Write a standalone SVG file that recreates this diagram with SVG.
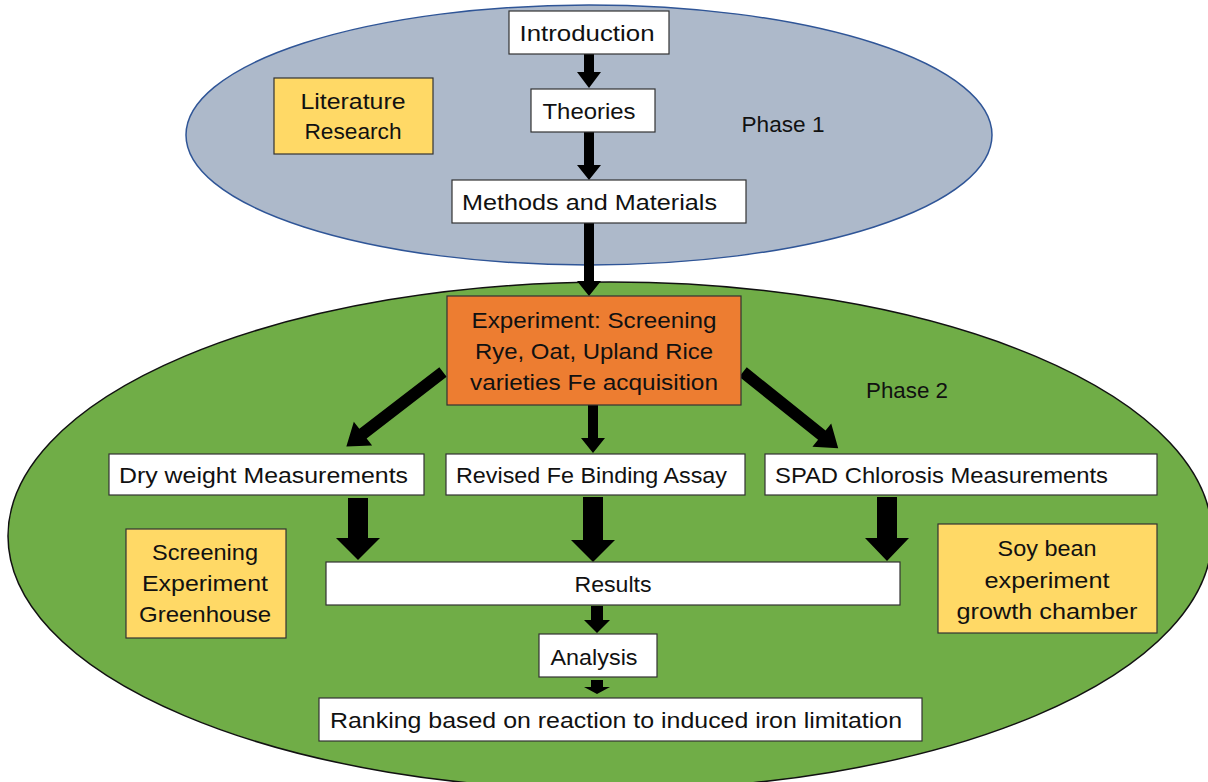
<svg xmlns="http://www.w3.org/2000/svg" width="1208" height="782" viewBox="0 0 1208 782">
<style>
text{font-family:"Liberation Sans",Arial,sans-serif;font-size:22px;fill:#111;text-anchor:middle;dominant-baseline:central}
text.l{text-anchor:start}
.box{fill:#fff;stroke:#333;stroke-width:1.2}
.note{fill:#FFD966;stroke:#333;stroke-width:1.2}
.arrow{fill:#000}
</style>
<rect width="1208" height="782" fill="#fff"/>
<g id="phase1">
<ellipse cx="589" cy="135" rx="403" ry="130" fill="#ADB9CA" stroke="#2F5597" stroke-width="1.5"/>
<text x="783" y="124" textLength="83" lengthAdjust="spacingAndGlyphs">Phase 1</text>
</g>
<g id="phase2">
<ellipse cx="610" cy="536" rx="602" ry="254" fill="#70AD47" stroke="#111" stroke-width="1.5"/>
<text x="907" y="390" textLength="82" lengthAdjust="spacingAndGlyphs">Phase 2</text>
</g>
<g id="connectors">
<polygon class="arrow" points="584,54 594,54 594,72 601,72 589,88 577,72 584,72"/>
<polygon class="arrow" points="584,132 594,132 594,165 601,165 589,180 577,165 584,165"/>
<polygon class="arrow" points="584,223 594,223 594,281 601,281 589,296 577,281 584,281"/>
<g transform="translate(443,372) rotate(142.4)"><polygon class="arrow" points="0,-6 101,-6 101,-15 122,0 101,15 101,6 0,6"/></g>
<g transform="translate(743,372) rotate(38.7)"><polygon class="arrow" points="0,-6 101,-6 101,-15 122,0 101,15 101,6 0,6"/></g>
<polygon class="arrow" points="588,405 598,405 598,438 605,438 593,453 581,438 588,438"/>
<polygon class="arrow" points="348,498 368,498 368,538 380,538 358,560 336,538 348,538"/>
<polygon class="arrow" points="583,497 603,497 603,540 615,540 593,562 571,540 583,540"/>
<polygon class="arrow" points="877,497 897,497 897,538 909,538 887,561 865,538 877,538"/>
<polygon class="arrow" points="591,606 603,606 603,620 610,620 597,633 584,620 591,620"/>
<polygon class="arrow" points="591,680 603,680 603,687 610,687 597,694 584,687 591,687"/>
</g>
<g id="introduction"><rect class="box" x="509" y="11" width="160" height="43"/><text x="587" y="33" textLength="135" lengthAdjust="spacingAndGlyphs">Introduction</text></g>
<g id="theories"><rect class="box" x="531" y="89" width="124" height="43"/><text x="589" y="111" textLength="93" lengthAdjust="spacingAndGlyphs">Theories</text></g>
<g id="methods"><rect class="box" x="452" y="180" width="294" height="43"/><text class="l" x="462" y="202" textLength="255" lengthAdjust="spacingAndGlyphs">Methods and Materials</text></g>
<g id="literature"><rect class="note" x="274" y="78" width="159" height="76"/><text x="353" y="101" textLength="105" lengthAdjust="spacingAndGlyphs">Literature</text><text x="353" y="131" textLength="97" lengthAdjust="spacingAndGlyphs">Research</text></g>
<g id="experiment"><rect x="447" y="296" width="294" height="109" fill="#ED7D31" stroke="#333" stroke-width="1.2"/><text x="594" y="320" textLength="245" lengthAdjust="spacingAndGlyphs">Experiment: Screening</text><text x="594" y="351" textLength="238" lengthAdjust="spacingAndGlyphs">Rye, Oat, Upland Rice</text><text x="594" y="382" textLength="248" lengthAdjust="spacingAndGlyphs">varieties Fe acquisition</text></g>
<g id="dryweight"><rect class="box" x="109" y="454" width="315" height="41"/><text class="l" x="119" y="475" textLength="289" lengthAdjust="spacingAndGlyphs">Dry weight Measurements</text></g>
<g id="revised"><rect class="box" x="446" y="454" width="299" height="41"/><text class="l" x="456" y="475" textLength="271" lengthAdjust="spacingAndGlyphs">Revised Fe Binding Assay</text></g>
<g id="spad"><rect class="box" x="765" y="454" width="392" height="41"/><text class="l" x="775" y="475" textLength="333" lengthAdjust="spacingAndGlyphs">SPAD Chlorosis Measurements</text></g>
<g id="screening"><rect class="note" x="126" y="529" width="160" height="109"/><text x="205" y="552" textLength="106" lengthAdjust="spacingAndGlyphs">Screening</text><text x="205" y="583" textLength="126" lengthAdjust="spacingAndGlyphs">Experiment</text><text x="205" y="614" textLength="132" lengthAdjust="spacingAndGlyphs">Greenhouse</text></g>
<g id="soybean"><rect class="note" x="938" y="524" width="219" height="109"/><text x="1047" y="548" textLength="99" lengthAdjust="spacingAndGlyphs">Soy bean</text><text x="1047" y="580" textLength="125" lengthAdjust="spacingAndGlyphs">experiment</text><text x="1047" y="611" textLength="181" lengthAdjust="spacingAndGlyphs">growth chamber</text></g>
<g id="results"><rect class="box" x="326" y="562" width="574" height="43"/><text x="613" y="584" textLength="77" lengthAdjust="spacingAndGlyphs">Results</text></g>
<g id="analysis"><rect class="box" x="539" y="634" width="118" height="43"/><text x="594" y="657" textLength="87" lengthAdjust="spacingAndGlyphs">Analysis</text></g>
<g id="ranking"><rect class="box" x="319" y="698" width="603" height="43"/><text class="l" x="330" y="720" textLength="572" lengthAdjust="spacingAndGlyphs">Ranking based on reaction to induced iron limitation</text></g>
</svg>
